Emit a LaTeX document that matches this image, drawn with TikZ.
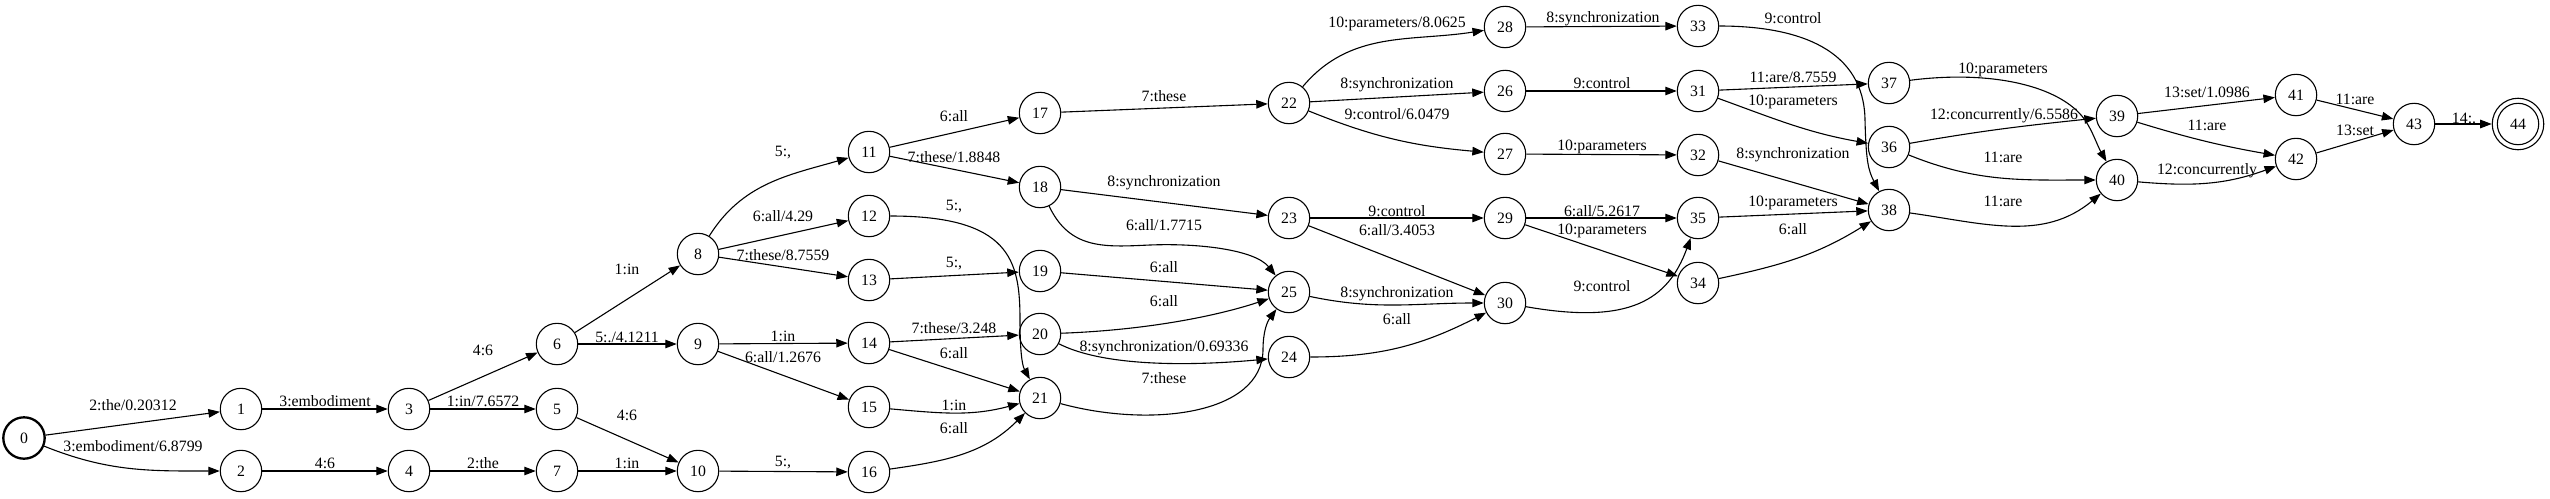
\documentclass[tikz,border=0pt]{standalone}
\usepackage{fontspec}
\setmainfont{Liberation Serif}
\usetikzlibrary{arrows.meta}
\begin{document}
\begin{tikzpicture}[x=1pt,y=1pt,
  st/.style={circle,draw,line width=1.1pt,minimum size=41.4pt,inner sep=0pt,font=\fontsize{15.8}{18}\selectfont},
  init/.style={st,line width=2.3pt},
  final/.style={st,minimum size=51.5pt},
  lb/.style={inner sep=0pt,font=\fontsize{15.8}{18}\selectfont},
  ar/.style={line width=1.1pt,-{Triangle[length=11.5pt,width=8.5pt]}}]
\useasboundingbox (0,0) rectangle (2550,-498);
% nodes
\node[init] (n0) at (24,-438) {0};
\node[st] (n1) at (241,-409) {1};
\node[st] (n2) at (241,-471) {2};
\node[st] (n3) at (409,-409) {3};
\node[st] (n4) at (409,-471) {4};
\node[st] (n5) at (557,-409) {5};
\node[st] (n6) at (557,-344) {6};
\node[st] (n7) at (557,-471) {7};
\node[st] (n8) at (698,-254) {8};
\node[st] (n9) at (698,-344) {9};
\node[st] (n10) at (698,-471) {10};
\node[st] (n11) at (869,-152) {11};
\node[st] (n12) at (869,-216) {12};
\node[st] (n13) at (869,-280) {13};
\node[st] (n14) at (869,-343) {14};
\node[st] (n15) at (869,-407) {15};
\node[st] (n16) at (869,-472) {16};
\node[st] (n17) at (1040,-113) {17};
\node[st] (n18) at (1040,-187) {18};
\node[st] (n19) at (1040,-271) {19};
\node[st] (n20) at (1040,-334) {20};
\node[st] (n21) at (1040,-398) {21};
\node[st] (n22) at (1289,-103) {22};
\node[st] (n23) at (1289,-218) {23};
\node[st] (n24) at (1289,-357) {24};
\node[st] (n25) at (1289,-292) {25};
\node[st] (n26) at (1505,-91) {26};
\node[st] (n27) at (1505,-154) {27};
\node[st] (n28) at (1505,-27) {28};
\node[st] (n29) at (1505,-218) {29};
\node[st] (n30) at (1505,-303) {30};
\node[st] (n31) at (1698,-91) {31};
\node[st] (n32) at (1698,-155) {32};
\node[st] (n33) at (1698,-26) {33};
\node[st] (n34) at (1698,-283) {34};
\node[st] (n35) at (1698,-218) {35};
\node[st] (n36) at (1889,-147) {36};
\node[st] (n37) at (1889,-83) {37};
\node[st] (n38) at (1889,-210) {38};
\node[st] (n39) at (2117,-116) {39};
\node[st] (n40) at (2117,-180) {40};
\node[st] (n41) at (2296,-95) {41};
\node[st] (n42) at (2296,-159) {42};
\node[st] (n43) at (2414,-124) {43};
\node[final] (n44) at (2518,-124) {44};
\draw[line width=1.1pt] (n44.center) circle[radius=20.7pt];
% edges
\draw[ar] (n0) -- (n1) node[lb] (l1) at (133,-405) {2:the/0.20312};
\draw[ar] (n0) to[out=-22,in=180] (n2) node[lb] (l2) at (133,-446) {3:embodiment/6.8799};
\draw[ar] (n1) -- (n3) node[lb] (l3) at (325,-401) {3:embodiment};
\draw[ar] (n2) -- (n4) node[lb] (l4) at (325,-463) {4:6};
\draw[ar] (n3) -- (n6) node[lb] (l5) at (483,-350) {4:6};
\draw[ar] (n3) -- (n5) node[lb] (l6) at (483,-401) {1:in/7.6572};
\draw[ar] (n4) -- (n7) node[lb] (l7) at (483,-463) {2:the};
\draw[ar] (n5) -- (n10) node[lb] (l8) at (627,-415) {4:6};
\draw[ar] (n7) -- (n10) node[lb] (l9) at (627,-463) {1:in};
\draw[ar] (n6) -- (n8) node[lb] (l10) at (627,-269) {1:in};
\draw[ar] (n6) -- (n9) node[lb] (l11) at (627,-337) {5:./4.1211};
\draw[ar] (n8) to[out=58,in=196] (n11) node[lb] (l12) at (783,-153) {5:,};
\draw[ar] (n8) -- (n12) node[lb] (l13) at (783,-216) {6:all/4.29};
\draw[ar] (n8) -- (n13) node[lb] (l14) at (783,-255) {7:these/8.7559};
\draw[ar] (n9) -- (n14) node[lb] (l15) at (783,-336) {1:in};
\draw[ar] (n9) -- (n15) node[lb] (l16) at (783,-357) {6:all/1.2676};
\draw[ar] (n10) -- (n16) node[lb] (l17) at (783,-463) {5:,};
\draw[ar] (n11) -- (n17) node[lb] (l18) at (954,-116) {6:all};
\draw[ar] (n11) -- (n18) node[lb] (l19) at (954,-157) {7:these/1.8848};
\draw[ar] (n12) .. controls (1010,-216) and (1020,-260) .. (1020,-320) .. controls (1020,-350) and (1022,-365) .. (n21) node[lb] (l20) at (954,-207) {5:,};
\draw[ar] (n13) -- (n19) node[lb] (l21) at (954,-264) {5:,};
\draw[ar] (n14) -- (n20) node[lb] (l22) at (954,-328) {7:these/3.248};
\draw[ar] (n14) -- (n21) node[lb] (l23) at (954,-353) {6:all};
\draw[ar] (n15) to[out=-5,in=195] (n21) node[lb] (l24) at (954,-405) {1:in};
\draw[ar] (n16) to[out=8,in=225] (n21) node[lb] (l25) at (954,-428) {6:all};
\draw[ar] (n17) -- (n22) node[lb] (l26) at (1164,-96) {7:these};
\draw[ar] (n18) -- (n23) node[lb] (l27) at (1164,-183) {8:synchronization};
\draw[ar] (n18) .. controls (1070,-250) and (1105,-247) .. (1150,-245) .. controls (1200,-243) and (1255,-250) .. (n25) node[lb] (l28) at (1164,-225) {6:all/1.7715};
\draw[ar] (n19) -- (n25) node[lb] (l29) at (1164,-267) {6:all};
\draw[ar] (n20) .. controls (1150,-330) and (1220,-315) .. (n25) node[lb] (l30) at (1164,-301) {6:all};
\draw[ar] (n20) .. controls (1100,-365) and (1180,-367) .. (n24) node[lb] (l31) at (1164,-348) {8:synchronization/0.69336};
\draw[ar] (n21) .. controls (1150,-428) and (1262,-415) .. (1263,-350) .. controls (1263,-332) and (1267,-322) .. (n25) node[lb] (l32) at (1164,-378) {7:these};
\draw[ar] (n22) to[out=50,in=189] (n28) node[lb] (l33) at (1397,-24) {10:parameters/8.0625};
\draw[ar] (n22) -- (n26) node[lb] (l34) at (1397,-85) {8:synchronization};
\draw[ar] (n22) to[out=-22,in=175] (n27) node[lb] (l35) at (1397,-114) {9:control/6.0479};
\draw[ar] (n23) -- (n29) node[lb] (l36) at (1397,-211) {9:control};
\draw[ar] (n23) -- (n30) node[lb] (l37) at (1397,-230) {6:all/3.4053};
\draw[ar] (n25) to[out=-12,in=180] (n30) node[lb] (l38) at (1397,-294) {8:synchronization};
\draw[ar] (n24) to[out=0,in=207] (n30) node[lb] (l39) at (1397,-319) {6:all};
\draw[ar] (n29) -- (n35) node[lb] (l40) at (1602,-211) {6:all/5.2617};
\draw[ar] (n29) -- (n34) node[lb] (l41) at (1602,-231) {10:parameters};
\draw[ar] (n30) .. controls (1630,-325) and (1668,-300) .. (n35) node[lb] (l42) at (1602,-286) {9:control};
\draw[ar] (n28) -- (n33) node[lb] (l43) at (1603,-19) {8:synchronization};
\draw[ar] (n26) -- (n31) node[lb] (l44) at (1602,-83) {9:control};
\draw[ar] (n27) -- (n32) node[lb] (l45) at (1602,-147) {10:parameters};
\draw[ar] (n33) .. controls (1800,-26) and (1864,-50) .. (1865,-120) .. controls (1866,-160) and (1868,-170) .. (n38) node[lb] (l46) at (1793,-18) {9:control};
\draw[ar] (n31) -- (n37) node[lb] (l47) at (1793,-77) {11:are/8.7559};
\draw[ar] (n31) to[out=-20,in=170] (n36) node[lb] (l48) at (1793,-102) {10:parameters};
\draw[ar] (n32) -- (n38) node[lb] (l49) at (1793,-155) {8:synchronization};
\draw[ar] (n35) -- (n38) node[lb] (l50) at (1793,-203) {10:parameters};
\draw[ar] (n34) to[out=12,in=212] (n38) node[lb] (l51) at (1793,-229) {6:all};
\draw[ar] (n37) .. controls (1990,-70) and (2060,-85) .. (2085,-120) .. controls (2093,-132) and (2097,-145) .. (n40) node[lb] (l52) at (2003,-70) {10:parameters};
\draw[ar] (n36) to[out=10,in=186] (n39) node[lb] (l53) at (2004,-116) {12:concurrently/6.5586};
\draw[ar] (n36) to[out=-22,in=180] (n40) node[lb] (l54) at (2003,-157) {11:are};
\draw[ar] (n38) to[out=-8,in=220] (n40) node[lb] (l55) at (2003,-201) {11:are};
\draw[ar] (n39) -- (n41) node[lb] (l56) at (2207,-92) {13:set/1.0986};
\draw[ar] (n39) to[out=-17,in=170] (n42) node[lb] (l57) at (2207,-125) {11:are};
\draw[ar] (n40) to[out=-5,in=200] (n42) node[lb] (l58) at (2207,-171) {12:concurrently};
\draw[ar] (n41) -- (n43) node[lb] (l59) at (2355,-99) {11:are};
\draw[ar] (n42) -- (n43) node[lb] (l60) at (2355,-130) {13:set};
\draw[ar] (n43) -- (n44) node[lb] (l61) at (2464,-118) {14:.};
\end{tikzpicture}
\end{document}
